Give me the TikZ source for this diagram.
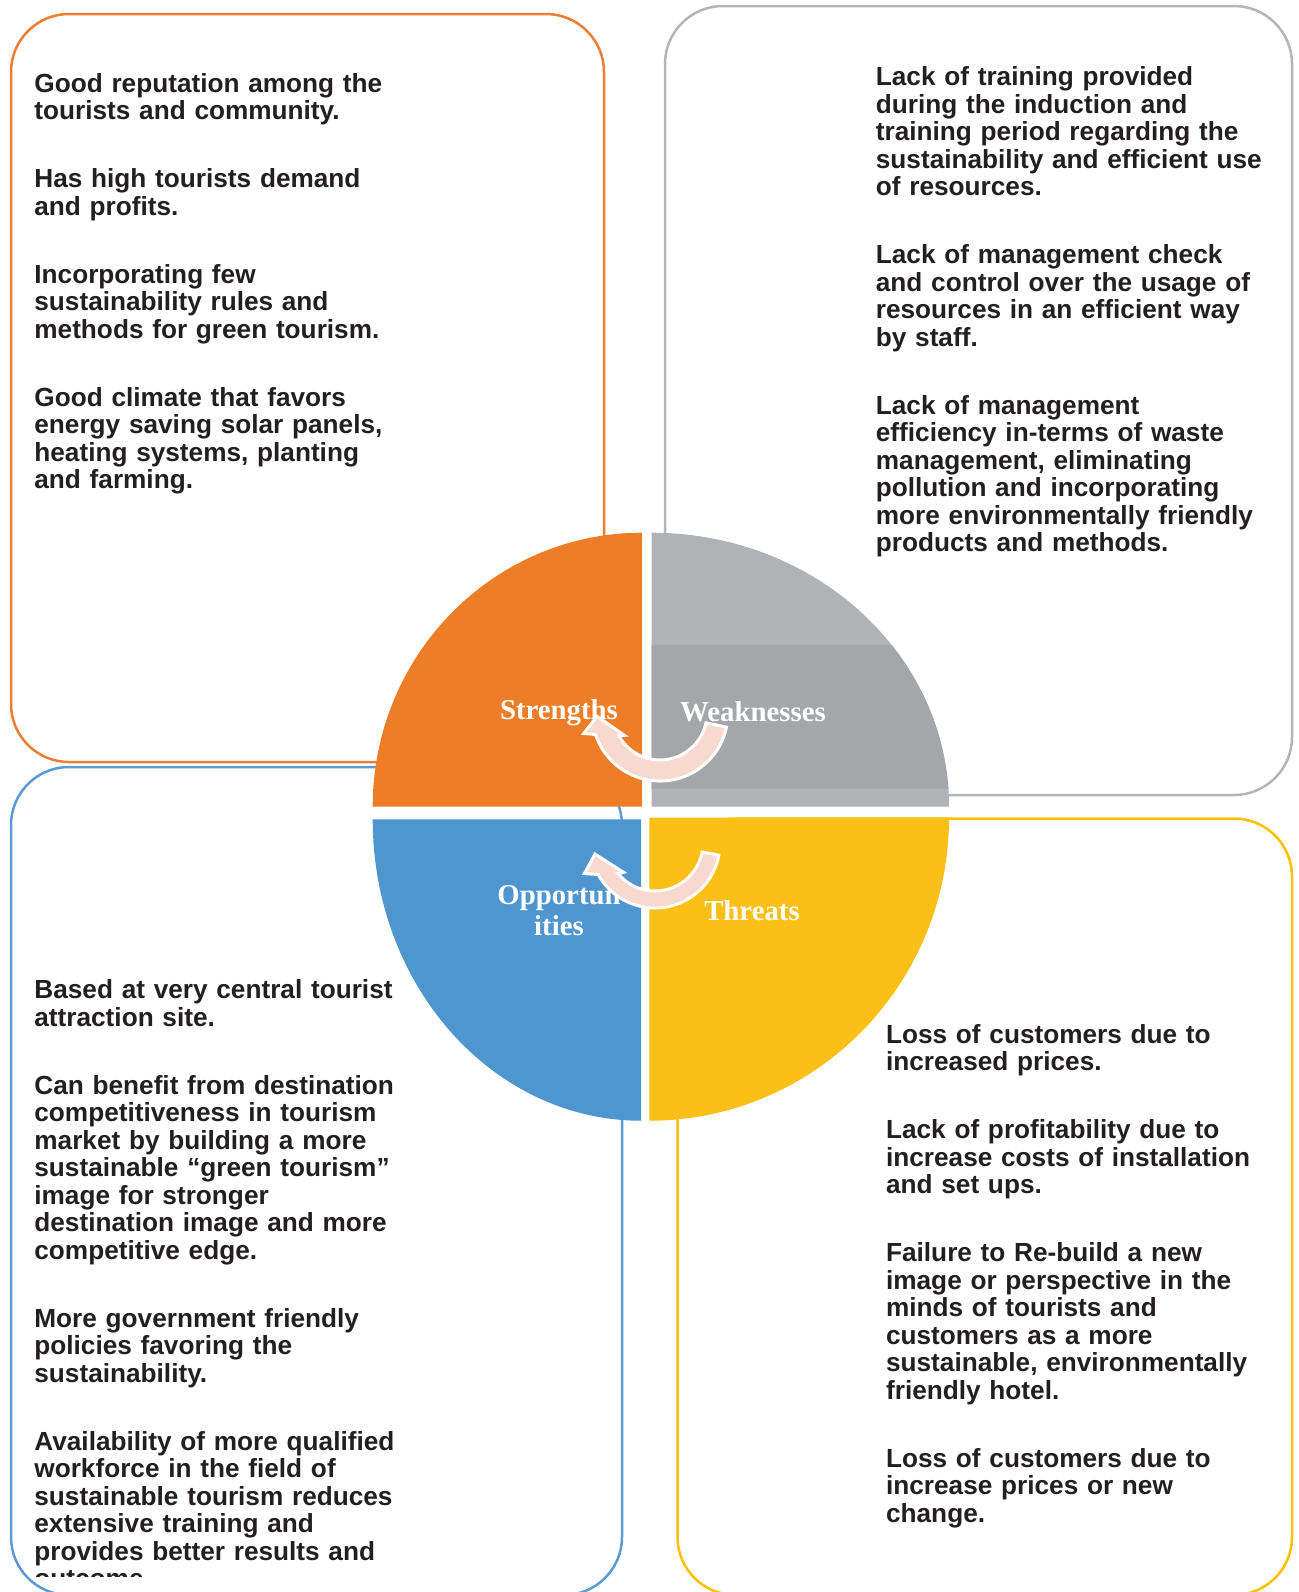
\documentclass[tikz,border=0pt]{standalone}
\usepackage{fontspec}
\setmainfont{Liberation Sans}
\newfontfamily\labelfont{Liberation Serif}
\definecolor{strengths}{RGB}{237,125,39}
\definecolor{strengthsline}{RGB}{237,125,49}
\definecolor{weaknesses}{RGB}{177,178,181}
\definecolor{weaknessesdark}{RGB}{165,166,169}
\definecolor{weaknessesline}{RGB}{180,181,184}
\definecolor{opportunities}{RGB}{79,150,209}
\definecolor{opportunitiesline}{RGB}{91,155,213}
\definecolor{threats}{RGB}{251,191,21}
\definecolor{threatsline}{RGB}{255,192,0}
\definecolor{cyclearrow}{RGB}{248,216,207}
\definecolor{bodytext}{RGB}{35,31,32}

\begin{document}
\begin{tikzpicture}[x=0.5pt, y=-0.5pt]
    \tikzstyle{swotbox} = [line width=1.25pt, rounded corners=29pt]
    \tikzstyle{swottext} = [anchor=base west, inner sep=0pt, text width=215pt, align=left,
        text=bodytext, font=\fontsize{13.1}{13.75}\selectfont\bfseries]
    \tikzstyle{swotlabel} = [anchor=base, inner sep=0pt, text width=90pt, align=center,
        text=white, font=\labelfont\fontsize{14.4}{15.3}\selectfont\bfseries]
    \tikzstyle{swotarrow} = [fill=cyclearrow, draw=white, line width=1.5pt]
    \useasboundingbox (0,0) rectangle (1298,1592);

    % outer boxes
    \draw[swotbox, strengthsline] (11,14) rectangle (604,762);
    \draw[swotbox, weaknessesline] (665,6) rectangle (1292,795);
    \draw[swotbox, opportunitiesline] (11,767) rectangle (622,1595);
    \draw[swotbox, threatsline] (677.5,818.5) rectangle (1292,1595);

    % box texts
    \node[swottext] (strengthstext) at (34,92) {Good reputation among the\\
        tourists and community.\\[20.25pt]
        Has high tourists demand\\ and profits.\\[20.25pt]
        Incorporating few\\ sustainability rules and\\ methods for green tourism.\\[20.25pt]
        Good climate that favors\\ energy saving solar panels,\\ heating systems, planting\\ and farming.};
    \node[swottext] (weaknessestext) at (875.5,85.6) {Lack of training provided\\
        during the induction and\\ training period regarding the\\
        sustainability and efficient use\\ of resources.\\[20.25pt]
        Lack of management check\\ and control over the usage of\\
        resources in an efficient way\\ by staff.\\[20.25pt]
        Lack of management\\ efficiency in-terms of waste\\ management, eliminating\\
        pollution and incorporating\\ more environmentally friendly\\ products and methods.};
    \begin{scope}
        \clip (0,0) rectangle (1298,1576);
        \node[swottext] (opportunitiestext) at (34,998.7) {Based at very central tourist\\
            attraction site.\\[20.25pt]
            Can benefit from destination\\ competitiveness in tourism\\
            market by building a more\\ sustainable “green tourism”\\
            image for stronger\\ destination image and more\\ competitive edge.\\[20.25pt]
            More government friendly\\ policies favoring the\\ sustainability.\\[20.25pt]
            Availability of more qualified\\ workforce in the field of\\
            sustainable tourism reduces\\ extensive training and\\
            provides better results and\\ outcome.};
    \end{scope}
    \node[swottext] (threatstext) at (885.7,1043.4) {Loss of customers due to\\
        increased prices.\\[20.25pt]
        Lack of profitability due to\\ increase costs of installation\\ and set ups.\\[20.25pt]
        Failure to Re-build a new\\ image or perspective in the\\ minds of tourists and\\
        customers as a more\\ sustainable, environmentally\\ friendly hotel.\\[20.25pt]
        Loss of customers due to\\ increase prices or new\\ change.};

    % the four quarters
    \fill[strengths] (642,806.7) -- (372.7,806.7)
        arc[start angle=180, end angle=270, x radius=269.3, y radius=274] -- cycle;
    \fill[weaknesses] (651.5,806.7) -- (651.5,532.7)
        arc[start angle=270, end angle=360, x radius=297.5, y radius=274] -- cycle;
    \begin{scope}
        \clip (651.5,806.7) -- (651.5,532.7)
            arc[start angle=270, end angle=360, x radius=297.5, y radius=274] -- cycle;
        \fill[weaknessesdark] (640,644.5) rectangle (960,789);
    \end{scope}
    \fill[opportunities] (641,819.3) -- (641,1120.7)
        arc[start angle=90, end angle=180, x radius=268.3, y radius=301.4] -- cycle;
    \fill[threats] (649.3,817.7) -- (949,817.7)
        arc[start angle=0, end angle=90, x radius=299.7, y radius=303] -- cycle;

    % quarter labels
    \node[swotlabel] (strengthslabel) at (559,719) {Strengths};
    \node[swotlabel] (weaknesseslabel) at (753,721) {Weaknesses};
    \node[swotlabel] (opportunitieslabel) at (559,904.6) {Opportun\\ ities};
    \node[swotlabel] (threatslabel) at (752,920) {Threats};

    % cycle arrows
    \begin{scope}[shift={(660,713)}]
        \draw[swotarrow] (12:68) arc[start angle=12, end angle=161.6, radius=68]
            -- (165:79) -- (177:63) -- (148:42) -- (151.5:47)
            arc[start angle=151.5, end angle=12, radius=47] -- cycle;
    \end{scope}
    \begin{scope}[shift={(655,843)}]
        \draw[swotarrow] (10.8:65) arc[start angle=10.8, end angle=151, radius=65]
            -- (156.6:77) -- (169.6:61) -- (137:43) -- (140.5:48)
            arc[start angle=140.5, end angle=10.8, radius=48] -- cycle;
    \end{scope}
\end{tikzpicture}
\end{document}
